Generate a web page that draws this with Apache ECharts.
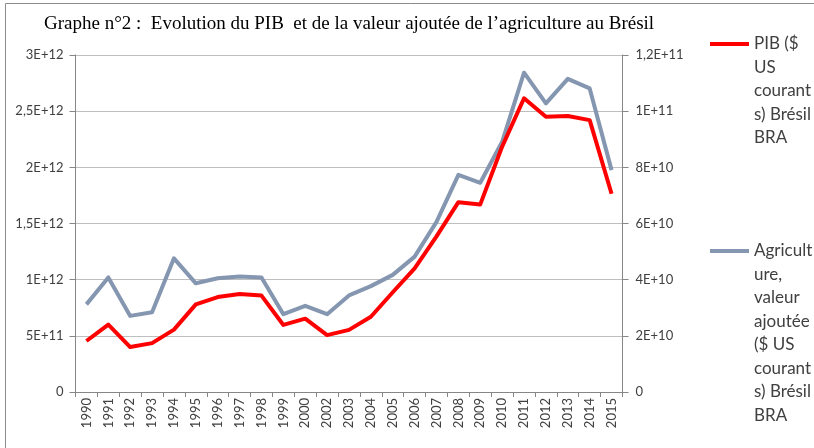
<!DOCTYPE html>
<html>
<head>
<meta charset="utf-8">
<script src="https://cdn.jsdelivr.net/npm/echarts@6/dist/echarts.min.js"></script>
<style>
  html, body { margin: 0; padding: 0; background: #fff; }
  #chart { width: 814px; height: 448px; }
</style>
</head>
<body>
<div id="chart"></div>
<script>
// annees (2001 absent dans la source)
const years = ['1990','1991','1992','1993','1994','1995','1996','1997','1998','1999','2000',
  '2002','2003','2004','2005','2006','2007','2008','2009','2010','2011','2012','2013','2014','2015'];

// PIB ($ US courants), axe gauche
const pib = [4.54e11, 6.0e11, 4.0e11, 4.35e11, 5.55e11, 7.8e11, 8.45e11, 8.72e11, 8.58e11, 5.97e11, 6.53e11,
  5.06e11, 5.53e11, 6.7e11, 8.88e11, 1.10e12, 1.385e12, 1.69e12, 1.67e12, 2.185e12, 2.615e12, 2.45e12, 2.457e12, 2.42e12, 1.765e12];

// Agriculture, valeur ajoutee ($ US courants), axe droit
const agri = [3.12e10, 4.08e10, 2.71e10, 2.84e10, 4.76e10, 3.87e10, 4.05e10, 4.11e10, 4.08e10, 2.77e10, 3.07e10,
  2.77e10, 3.44e10, 3.77e10, 4.17e10, 4.82e10, 6.06e10, 7.73e10, 7.45e10, 8.91e10, 1.137e11, 1.028e11, 1.115e11, 1.081e11, 7.9e10];

const seriesNames = [
  'PIB ($ US courants) Brésil BRA',
  'Agriculture, valeur ajoutée ($ US courants) Brésil BRA'
];
// coupures de ligne comme dans la légende Excel
const legendLines = [
  ['PIB ($', 'US', 'courant', 's) Brésil', 'BRA'],
  ['Agricult', 'ure,', 'valeur', 'ajoutée', '($ US', 'courant', 's) Brésil', 'BRA']
];

const LH = 23.5;

function sci(v) {
  if (v === 0) return '0';
  const e = Math.floor(Math.log10(v) + 1e-9);
  let m = Math.round(v / Math.pow(10, e) * 10) / 10;
  return String(m).replace('.', ',') + 'E+' + e;
}

// le texte est centré sur l'icone : on ajoute des lignes vides au-dessus
// pour que la premiere ligne soit au niveau du trait
function makeLegend(i, firstLineY) {
  const n = legendLines[i].length;
  const blanks = new Array(n - 1).fill(' ');
  return {
    data: [seriesNames[i]],
    orient: 'vertical',
    left: 710,
    top: firstLineY - (2 * n - 1) * LH / 2,
    padding: 0,
    icon: 'rect',
    itemWidth: 39,
    itemHeight: 4,
    formatter: function () { return blanks.concat(legendLines[i]).join('\n'); },
    textStyle: {
      fontFamily: 'Lato',
      fontSize: 17,
      color: '#404040',
      lineHeight: LH
    }
  };
}

const chart = echarts.init(document.getElementById('chart'));
chart.setOption({
  animation: false,
  backgroundColor: '#fff',
  title: {
    text: 'Graphe n°2 :  Evolution du PIB  et de la valeur ajoutée de l’agriculture au Brésil',
    left: 39,
    top: 10,
    textStyle: {
      fontFamily: 'Liberation Serif',
      fontSize: 19,
      fontWeight: 'normal',
      color: '#000'
    }
  },
  graphic: [{
    type: 'rect',
    shape: { x: 5.5, y: 3.5, width: 900, height: 600 },
    style: { fill: 'none', stroke: '#8c8c8c', lineWidth: 1 },
    silent: true
  }],
  legend: [makeLegend(0, 44), makeLegend(1, 251)],
  grid: { left: 75.5, right: 191.5, top: 55, bottom: 56 },
  xAxis: {
    type: 'category',
    data: years,
    boundaryGap: true,
    axisLine: { lineStyle: { color: '#868686', width: 1 } },
    axisTick: { show: true, length: 5, lineStyle: { color: '#868686' } },
    axisLabel: {
      rotate: 90,
      interval: 0,
      margin: 6,
      fontFamily: 'Lato',
      fontSize: 13,
      color: '#404040'
    }
  },
  yAxis: [{
    type: 'value',
    min: 0,
    max: 3e12,
    interval: 5e11,
    axisLine: { show: true, lineStyle: { color: '#868686' } },
    axisTick: { show: true, length: 6, lineStyle: { color: '#868686' } },
    splitLine: { lineStyle: { color: '#bebebe', width: 1 } },
    axisLabel: {
      formatter: sci,
      margin: 12,
      fontFamily: 'Lato',
      fontSize: 13,
      color: '#404040'
    }
  }, {
    type: 'value',
    min: 0,
    max: 1.2e11,
    interval: 2e10,
    position: 'right',
    axisLine: { show: true, lineStyle: { color: '#868686' } },
    axisTick: { show: true, length: 6, lineStyle: { color: '#868686' } },
    splitLine: { show: false },
    axisLabel: {
      formatter: sci,
      margin: 13,
      fontFamily: 'Lato',
      fontSize: 13,
      color: '#404040'
    }
  }],
  series: [{
    name: seriesNames[0],
    type: 'line',
    yAxisIndex: 0,
    data: pib,
    z: 5,
    showSymbol: false,
    symbol: 'none',
    itemStyle: { color: '#ff0000' },
    lineStyle: { color: '#ff0000', width: 4, join: 'round' }
  }, {
    name: seriesNames[1],
    type: 'line',
    yAxisIndex: 1,
    data: agri,
    z: 3,
    showSymbol: false,
    symbol: 'none',
    itemStyle: { color: '#8496b0' },
    lineStyle: { color: '#8496b0', width: 4, join: 'round' }
  }]
});
</script>
</body>
</html>
